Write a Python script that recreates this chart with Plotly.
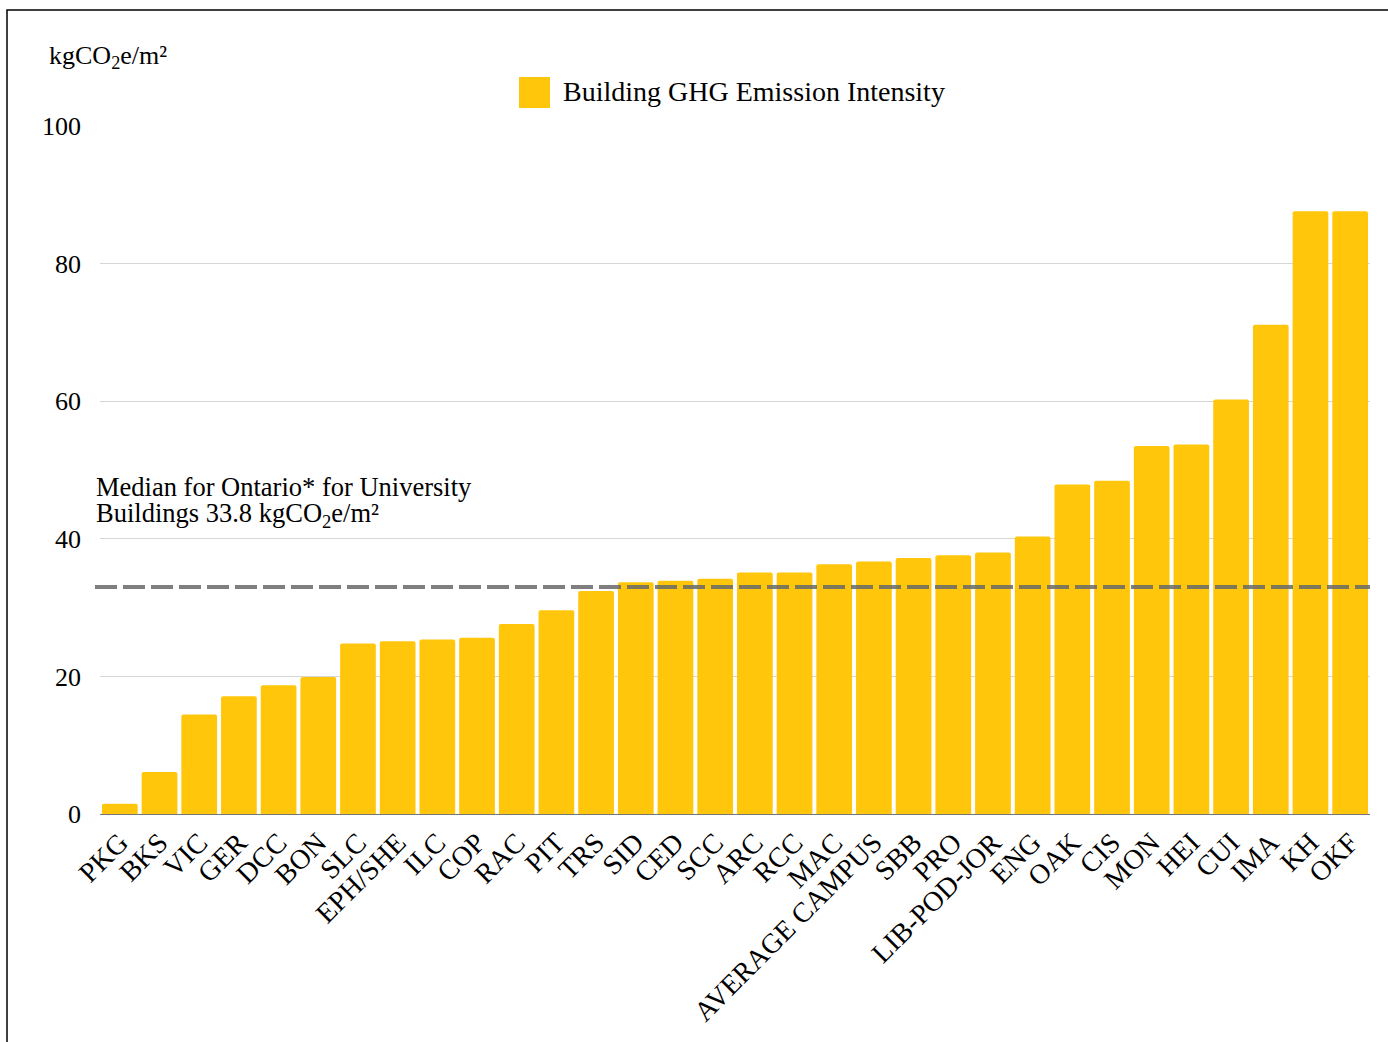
import plotly.graph_objects as go

buildings = ["PKG", "BKS", "VIC", "GER", "DCC", "BON", "SLC", "EPH/SHE", "ILC", "COP",
             "RAC", "PIT", "TRS", "SID", "CED", "SCC", "ARC", "RCC", "MAC", "AVERAGE CAMPUS",
             "SBB", "PRO", "LIB-POD-JOR", "ENG", "OAK", "CIS", "MON", "HEI", "CUI", "IMA",
             "KH", "OKF"]
intensity = [1.5, 6.1, 14.45, 17.1, 18.7, 19.9, 24.8, 25.1, 25.35, 25.6,
             27.6, 29.6, 32.4, 33.7, 33.9, 34.2, 35.1, 35.1, 36.3, 36.7,
             37.2, 37.6, 38.0, 40.35, 47.9, 48.45, 53.5, 53.7, 60.25, 71.1,
             87.6, 87.6]
median_line = 33.0
y_ticks = [0, 20, 40, 60, 80, 100]
series_name = "Building GHG Emission Intensity"

BAR = "#FFC60B"
FONT = "Liberation Serif"

fig = go.Figure()
fig.add_trace(go.Bar(
    x=buildings, y=intensity, name=series_name,
    marker=dict(color=BAR, line=dict(width=0)),
    showlegend=False,
))

W, H = 1388, 1042
L, R, T, B = 100, 18, 126, 228
pw, ph = W - L - R, H - T - B

def px(xp):
    return (xp - L) / pw

def py(yp):
    return (H - B - yp) / ph

shapes = [
    # median dashed line
    dict(type="line", xref="paper", yref="y", x0=px(95), x1=1.0,
         y0=median_line, y1=median_line,
         line=dict(color="rgba(105,105,105,0.85)", width=4, dash="22px,6px"), layer="above"),
    # outer border
    dict(type="rect", xref="paper", yref="paper", x0=px(7), x1=px(1400),
         y0=py(1060), y1=py(10), line=dict(color="black", width=1.5), layer="below"),
    # legend swatch
    dict(type="rect", xref="paper", yref="paper", x0=px(519), x1=px(550),
         y0=py(108), y1=py(77), fillcolor=BAR, line=dict(width=0)),
]

annotations = [
    dict(xref="paper", yref="paper", x=px(47), y=py(57), xanchor="left", yanchor="middle",
         text="kgCO<sub>2</sub>e/m²", showarrow=False, font=dict(family=FONT, size=26, color="black")),
    dict(xref="paper", yref="paper", x=px(561), y=py(92), xanchor="left", yanchor="middle",
         text=series_name, showarrow=False, font=dict(family=FONT, size=28, color="black")),
    dict(xref="paper", yref="paper", x=px(94), y=py(487), xanchor="left", yanchor="middle",
         text="Median for Ontario* for University", showarrow=False,
         font=dict(family=FONT, size=26.5, color="black")),
    dict(xref="paper", yref="paper", x=px(94), y=py(515), xanchor="left", yanchor="middle",
         text="Buildings 33.8 kgCO<sub>2</sub>e/m²", showarrow=False,
         font=dict(family=FONT, size=26.5, color="black")),
]

fig.update_layout(
    width=W, height=H,
    margin=dict(l=L, r=R, t=T, b=B, autoexpand=False),
    paper_bgcolor="white", plot_bgcolor="white",
    bargap=0.1, barcornerradius=2,
    font=dict(family=FONT, size=26, color="black"),
    shapes=shapes, annotations=annotations,
    showlegend=False,
)
fig.update_xaxes(tickangle=-45, tickfont=dict(family=FONT, size=28, color="black"),
                 showgrid=False, showline=True, linecolor="#777777", linewidth=1,
                 ticks="", automargin=False)
fig.update_yaxes(range=[0, 100], tickvals=y_ticks, showgrid=True, gridcolor="#d6d6d6",
                 gridwidth=1, zeroline=False, showline=False, ticks="",
                 ticklabelstandoff=18, tickfont=dict(family=FONT, size=26, color="black"),
                 automargin=False)

fig.write_html("out.html")
